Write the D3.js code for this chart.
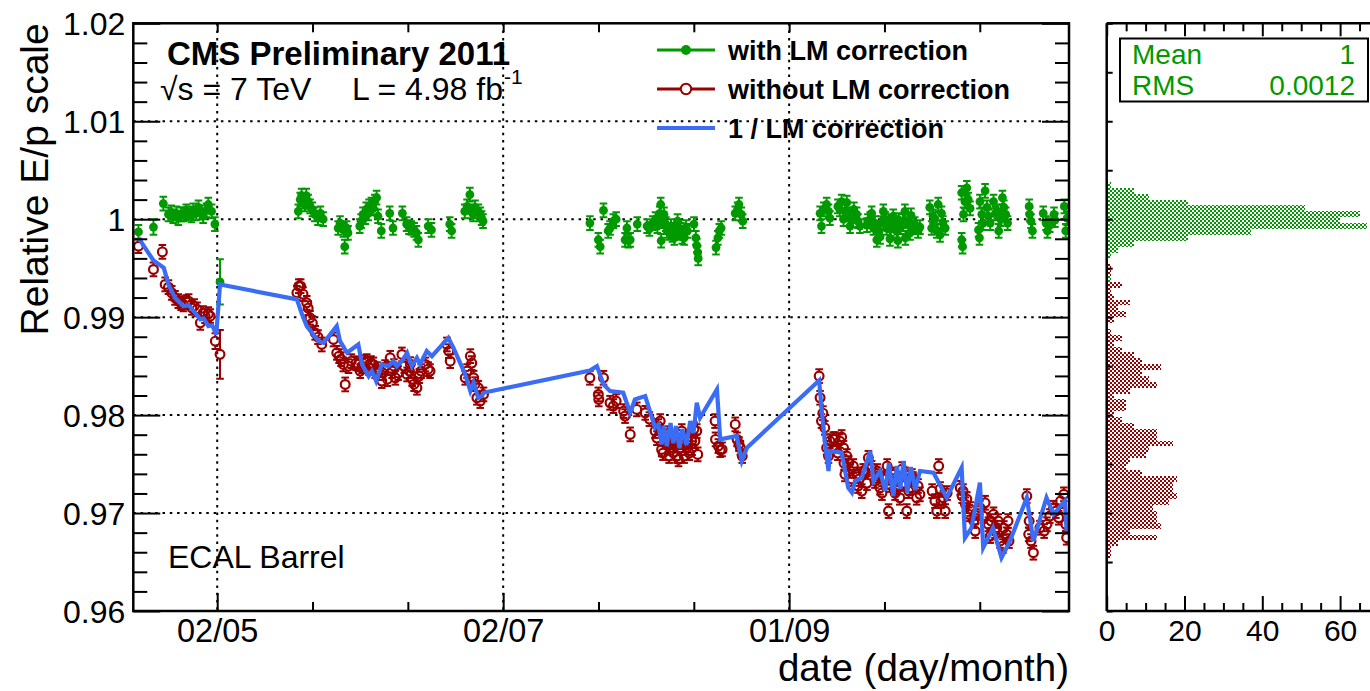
<!DOCTYPE html>
<html>
<head>
<meta charset="utf-8">
<script src="https://cdn.jsdelivr.net/npm/d3@7"></script>
<style>
  html, body { margin: 0; padding: 0; background: #fff; }
  svg { display: block; font-family: "Liberation Sans", Arial, Helvetica, sans-serif; }
</style>
</head>
<body>
<svg id="chart" width="1370" height="691"></svg>
<script>
// ---------------- data ----------------
// Days are counted as day-of-year 2011 (1 = 1 January).
const xDomainDays = [104.1, 303.7];
const yDomain = [0.96, 1.02];
const xMajorDays = [122, 183, 244];
const xMajorLabels = ["02/05", "02/07", "01/09"];
const yTickValues = [0.96, 0.97, 0.98, 0.99, 1.00, 1.01, 1.02];
const yTickLabels = ["0.96", "0.97", "0.98", "0.99", "1", "1.01", "1.02"];

// [day, E/p, error] — with laser-monitoring correction
const greenPoints = [
  [105.2,0.9987,0.0007],[108.4,0.9992,0.0008],[110.5,1.0016,0.0007],[111.6,1.0005,0.0007],[112.2,1.0007,0.0007],
  [112.6,1.0003,0.0007],[113.3,1.0006,0.0007],[113.7,1.0001,0.0007],[114.3,1.0005,0.0007],[114.8,1.0005,0.0007],
  [115.4,1.0008,0.0007],[115.8,1.0006,0.0007],[116.5,1.0004,0.0007],[116.9,1.0009,0.0007],[117.5,1.0006,0.0007],
  [118.0,1.0012,0.0007],[118.6,1.0007,0.0007],[119.0,1.0003,0.0007],[119.7,1.0009,0.0007],[120.1,1.0015,0.0007],
  [120.8,1.0008,0.0007],[121.5,0.9995,0.0007],[122.6,0.9936,0.0023],
  [139.3,1.0008,0.0007],[139.7,1.0020,0.0007],[140.0,1.0024,0.0007],[140.3,1.0018,0.0007],[140.7,1.0015,0.0007],
  [141.0,1.0024,0.0007],[141.4,1.0018,0.0007],[141.8,1.0013,0.0007],[142.3,1.0010,0.0007],[142.8,1.0005,0.0007],
  [143.5,1.0001,0.0007],[144.0,1.0006,0.0007],[144.6,1.0000,0.0007],[147.8,0.9991,0.0007],[148.2,0.9996,0.0007],
  [148.9,0.9989,0.0007],[149.2,0.9972,0.0007],[149.6,0.9991,0.0007],[149.9,0.9986,0.0007],[152.4,0.9993,0.0007],
  [152.7,0.9998,0.0007],[153.1,1.0005,0.0007],[153.6,1.0002,0.0007],[153.8,1.0010,0.0007],[154.2,1.0006,0.0007],
  [154.4,1.0013,0.0007],[154.9,1.0015,0.0007],[155.3,1.0011,0.0007],[155.6,1.0018,0.0007],[156.0,1.0022,0.0007],
  [156.3,1.0003,0.0007],[157.0,0.9988,0.0007],[158.8,1.0006,0.0007],[159.5,0.9991,0.0007],[161.5,1.0006,0.0007],
  [162.4,0.9995,0.0007],[162.9,0.9992,0.0007],[163.4,0.9991,0.0007],[164.0,0.9989,0.0007],[164.5,0.9986,0.0007],
  [164.9,0.9979,0.0007],[167.0,0.9993,0.0007],[167.7,0.9989,0.0007],[171.6,0.9995,0.0007],[172.0,0.9988,0.0007],
  [174.8,1.0008,0.0007],[175.3,1.0013,0.0007],[175.9,1.0025,0.0007],[176.2,1.0008,0.0007],[176.6,1.0005,0.0007],
  [177.0,1.0012,0.0007],[177.7,1.0008,0.0007],[178.1,1.0005,0.0007],[178.4,1.0001,0.0007],[178.7,0.9998,0.0007],
  [201.5,0.9996,0.0007],[203.3,0.9979,0.0007],[203.7,0.9972,0.0007],[204.4,1.0009,0.0007],[205.4,0.9988,0.0007],
  [205.8,0.9991,0.0007],[206.5,0.9998,0.0007],[207.1,1.0000,0.0007],[209.0,0.9979,0.0007],[209.4,0.9991,0.0007],
  [209.7,0.9978,0.0007],[210.1,0.9979,0.0007],[211.6,0.9995,0.0007],[213.7,0.9993,0.0007],[214.2,0.9990,0.0007],
  [214.9,0.9996,0.0007],[215.5,1.0000,0.0007],[215.9,0.9993,0.0007],[216.4,1.0006,0.0007],[216.6,1.0015,0.0007],
  [216.7,0.9978,0.0007],[216.9,0.9998,0.0007],[217.3,1.0005,0.0007],[217.7,0.9995,0.0007],[218.0,0.9988,0.0007],
  [218.4,0.9986,0.0007],[218.8,0.9993,0.0007],[219.1,0.9984,0.0007],[219.5,0.9981,0.0007],[219.8,0.9989,0.0007],
  [220.2,0.9998,0.0007],[220.5,0.9986,0.0007],[220.9,0.9989,0.0007],[221.2,0.9982,0.0007],[221.6,0.9981,0.0007],
  [222.0,0.9992,0.0007],[222.3,0.9988,0.0007],[223.7,0.9995,0.0007],[224.1,0.9981,0.0007],[224.3,0.9973,0.0007],
  [224.5,0.9966,0.0007],[224.6,0.9960,0.0007],[228.4,0.9971,0.0007],[228.8,0.9981,0.0007],[229.1,0.9988,0.0007],
  [229.5,0.9991,0.0007],[232.5,1.0006,0.0007],[233.0,1.0010,0.0007],[233.3,1.0015,0.0007],[233.8,1.0005,0.0007],
  [234.1,0.9998,0.0007],
  [250.6,1.0006,0.0007],[250.9,0.9993,0.0007],[251.4,1.0010,0.0007],[252.0,1.0015,0.0007],[252.4,1.0008,0.0007],
  [252.7,1.0001,0.0007],[254.4,1.0013,0.0007],[254.8,1.0010,0.0007],[255.2,1.0018,0.0007],[255.6,1.0000,0.0007],
  [255.9,1.0008,0.0007],[256.3,1.0017,0.0007],[256.6,1.0005,0.0007],[257.0,0.9993,0.0007],[257.4,0.9999,0.0007],
  [257.8,1.0010,0.0007],[258.4,1.0005,0.0007],[258.7,0.9998,0.0007],[259.1,0.9993,0.0007],[260.6,0.9994,0.0007],
  [260.8,0.9998,0.0007],[261.3,1.0000,0.0007],[261.6,1.0006,0.0007],[262.0,0.9991,0.0007],[262.3,0.9996,0.0007],
  [262.7,0.9979,0.0007],[263.2,0.9988,0.0007],[263.4,0.9982,0.0007],[263.6,0.9996,0.0007],[264.1,1.0008,0.0007],
  [264.5,1.0000,0.0007],[264.8,0.9991,0.0007],[265.3,0.9998,0.0007],[265.5,0.9980,0.0007],[265.7,0.9990,0.0007],
  [266.2,1.0003,0.0007],[266.6,0.9996,0.0007],[266.9,0.9988,0.0007],[267.2,0.9978,0.0007],[267.4,0.9999,0.0007],
  [267.8,0.9992,0.0007],[268.3,0.9998,0.0007],[268.7,1.0008,0.0007],[268.8,0.9981,0.0007],[269.4,0.9995,0.0007],
  [269.8,0.9986,0.0007],[270.0,1.0004,0.0007],[270.4,0.9992,0.0007],[270.8,0.9995,0.0007],[271.5,0.9988,0.0007],
  [271.9,0.9992,0.0007],[274.0,1.0012,0.0007],[274.4,0.9991,0.0007],[274.7,1.0003,0.0007],[275.1,1.0000,0.0007],
  [275.5,0.9988,0.0007],[275.8,1.0015,0.0007],[276.2,0.9984,0.0007],[276.5,1.0006,0.0007],[276.8,0.9996,0.0007],
  [277.3,0.9991,0.0007],[280.8,1.0027,0.0007],[280.8,0.9979,0.0007],[281.0,0.9972,0.0007],[281.2,1.0005,0.0007],
  [281.5,1.0018,0.0007],[281.9,1.0032,0.0007],[282.2,1.0020,0.0007],[282.6,1.0011,0.0007],[284.4,0.9989,0.0007],
  [284.6,0.9981,0.0007],[284.7,1.0018,0.0007],[285.1,1.0005,0.0007],[285.4,0.9996,0.0007],[285.8,1.0029,0.0007],
  [286.2,1.0012,0.0007],[286.5,1.0003,0.0007],[286.9,0.9996,0.0007],[287.6,1.0018,0.0007],[288.0,1.0006,0.0007],
  [288.4,1.0008,0.0007],[288.7,0.9988,0.0007],[289.1,1.0000,0.0007],[289.5,1.0022,0.0007],[289.8,1.0012,0.0007],
  [290.2,1.0005,0.0007],[290.6,0.9996,0.0007],[295.2,1.0013,0.0007],[295.3,1.0005,0.0007],[295.6,0.9998,0.0007],
  [295.9,0.9988,0.0007],[298.2,1.0006,0.0007],[298.8,0.9996,0.0007],[299.1,0.9988,0.0007],[299.6,0.9994,0.0007],
  [300.5,1.0005,0.0007],[300.7,0.9999,0.0007],[302.7,1.0013,0.0007],[303.0,0.9988,0.0007],[303.3,1.0001,0.0007]
];

// [day, E/p, error] — without laser-monitoring correction
const redPoints = [
  [105.2,0.99724,0.0007],[108.4,0.99487,0.0007],[110.3,0.99666,0.0007],[110.9,0.99334,0.0007],[111.6,0.99306,0.0007],
  [112.3,0.99248,0.0007],[113.0,0.99197,0.0007],[113.7,0.99163,0.0007],[114.3,0.99143,0.0007],[114.8,0.99130,0.0007],
  [115.4,0.99153,0.0007],[115.9,0.99163,0.0007],[116.6,0.99095,0.0007],[117.1,0.99112,0.0007],[117.7,0.99079,0.0007],
  [118.4,0.98942,0.0007],[119.0,0.99041,0.0007],[119.4,0.99010,0.0007],[120.1,0.99031,0.0007],[120.5,0.99010,0.0007],
  [121.6,0.98755,0.0008],[122.6,0.98620,0.0025],
  [139.0,0.99248,0.0007],[139.4,0.99316,0.0007],[139.8,0.99316,0.0007],[140.3,0.99235,0.0007],[141.1,0.99146,0.0007],
  [141.4,0.99092,0.0007],[141.8,0.98993,0.0007],[142.3,0.98939,0.0007],[142.9,0.98840,0.0007],[143.5,0.98796,0.0007],
  [144.3,0.98721,0.0007],[146.8,0.98772,0.0007],[147.5,0.98636,0.0007],[148.0,0.98602,0.0007],[148.4,0.98571,0.0007],
  [148.9,0.98517,0.0007],[149.3,0.98313,0.0007],[150.0,0.98500,0.0007],[150.6,0.98551,0.0007],[151.6,0.98530,0.0007],
  [152.1,0.98520,0.0007],[152.5,0.98449,0.0007],[152.9,0.98500,0.0007],[153.4,0.98541,0.0007],[153.9,0.98551,0.0007],
  [154.4,0.98480,0.0007],[154.8,0.98531,0.0007],[155.3,0.98517,0.0007],[155.7,0.98449,0.0007],[156.1,0.98469,0.0007],
  [156.3,0.98429,0.0007],[157.1,0.98347,0.0007],[157.4,0.98429,0.0007],[157.8,0.98490,0.0007],[158.3,0.98367,0.0007],
  [158.9,0.98585,0.0007],[159.3,0.98449,0.0007],[159.7,0.98500,0.0007],[160.0,0.98381,0.0007],[160.6,0.98429,0.0007],
  [161.4,0.98619,0.0007],[161.9,0.98500,0.0007],[162.5,0.98415,0.0007],[163.0,0.98449,0.0007],[163.2,0.98520,0.0007],
  [163.6,0.98367,0.0007],[164.0,0.98316,0.0007],[164.6,0.98279,0.0007],[165.1,0.98398,0.0007],[165.5,0.98449,0.0007],
  [166.4,0.98517,0.0007],[167.0,0.98469,0.0007],[167.4,0.98449,0.0007],
  [171.0,0.98721,0.0007],[171.4,0.98653,0.0007],[171.7,0.98551,0.0007],[174.9,0.98381,0.0007],[175.3,0.98449,0.0007],
  [176.0,0.98602,0.0007],[176.3,0.98531,0.0007],[176.7,0.98381,0.0007],[177.0,0.98316,0.0007],[177.4,0.98177,0.0007],
  [177.7,0.98279,0.0007],[178.1,0.98143,0.0007],[178.8,0.98211,0.0007],
  [201.5,0.98381,0.0007],[203.3,0.98211,0.0007],[203.4,0.98160,0.0007],[204.4,0.98381,0.0007],[205.8,0.98126,0.0007],
  [206.5,0.98092,0.0007],[207.1,0.98143,0.0007],[208.7,0.98041,0.0007],[209.0,0.97990,0.0007],[210.1,0.97803,0.0007],
  [211.5,0.98058,0.0007],[213.3,0.98023,0.0007],[214.2,0.97959,0.0007],[215.4,0.97837,0.0007],[215.8,0.97765,0.0007],
  [216.1,0.97888,0.0007],[216.5,0.97939,0.0007],[216.8,0.97650,0.0007],[217.1,0.97612,0.0007],[217.3,0.97776,0.0007],
  [217.9,0.97735,0.0007],[218.2,0.97816,0.0007],[218.4,0.97582,0.0007],[218.6,0.97666,0.0007],[219.0,0.97755,0.0007],
  [219.3,0.97615,0.0007],[219.5,0.97735,0.0007],[219.7,0.97694,0.0007],[220.0,0.97776,0.0007],[220.1,0.97582,0.0007],
  [220.4,0.97548,0.0007],[220.8,0.97663,0.0007],[221.1,0.97837,0.0007],[221.5,0.97735,0.0007],[221.6,0.97582,0.0007],
  [222.2,0.97666,0.0007],[222.4,0.97735,0.0007],[222.7,0.97612,0.0007],[223.2,0.97735,0.0007],[223.3,0.97663,0.0007],
  [223.7,0.97857,0.0007],[223.9,0.97735,0.0007],[224.3,0.97837,0.0007],[224.5,0.97599,0.0007],
  [228.2,0.97939,0.0007],[228.3,0.97752,0.0007],[228.9,0.97684,0.0007],[229.3,0.97643,0.0007],[229.7,0.97650,0.0007],
  [232.5,0.97905,0.0007],[232.9,0.97752,0.0007],[233.3,0.97704,0.0007],[233.6,0.97666,0.0007],[234.0,0.97582,0.0007],
  [250.4,0.98398,0.0007],[250.6,0.98177,0.0007],[250.9,0.97939,0.0007],[251.2,0.98020,0.0007],[251.6,0.97870,0.0007],
  [252.0,0.97666,0.0007],[252.4,0.97582,0.0007],[252.7,0.97735,0.0007],[253.4,0.97755,0.0007],[253.8,0.97755,0.0007],
  [254.4,0.97612,0.0007],[254.8,0.97735,0.0007],[255.2,0.97776,0.0007],[255.6,0.97666,0.0007],[255.7,0.97510,0.0007],
  [255.9,0.97395,0.0007],[256.3,0.97582,0.0007],[256.7,0.97510,0.0007],[257.0,0.97429,0.0007],[257.4,0.97347,0.0007],
  [257.7,0.97480,0.0007],[258.4,0.97395,0.0007],[258.7,0.97276,0.0007],[258.9,0.97347,0.0007],[259.5,0.97224,0.0007],
  [259.8,0.97429,0.0007],[260.2,0.97429,0.0007],[260.6,0.97306,0.0007],[260.9,0.97564,0.0007],[261.6,0.97462,0.0007],
  [262.3,0.97327,0.0007],[262.8,0.97429,0.0007],[263.0,0.97378,0.0007],[263.4,0.97258,0.0007],[263.8,0.97204,0.0007],
  [264.1,0.97347,0.0007],[264.8,0.97360,0.0007],[264.9,0.97480,0.0007],[265.2,0.97020,0.0007],[265.5,0.97286,0.0007],
  [266.0,0.97327,0.0007],[266.2,0.97395,0.0007],[266.6,0.97204,0.0007],[266.9,0.97258,0.0007],[267.3,0.97347,0.0007],
  [267.6,0.97156,0.0007],[268.1,0.97449,0.0007],[268.3,0.97306,0.0007],[268.7,0.97395,0.0007],[269.1,0.97020,0.0007],
  [269.5,0.97224,0.0007],[269.8,0.97258,0.0007],[270.2,0.97378,0.0007],[270.4,0.97347,0.0007],[271.2,0.97156,0.0007],
  [271.5,0.97276,0.0007],[271.9,0.97191,0.0007],[274.5,0.97224,0.0007],[275.1,0.97122,0.0007],[275.5,0.97020,0.0007],
  [275.9,0.97480,0.0007],[276.2,0.97245,0.0007],[276.4,0.97122,0.0007],[276.9,0.97156,0.0007],[277.3,0.97020,0.0007],
  [277.7,0.97204,0.0007],[280.5,0.97258,0.0007],[280.9,0.97173,0.0007],[281.1,0.97224,0.0007],[281.6,0.97089,0.0007],
  [281.9,0.97143,0.0007],[282.3,0.96987,0.0007],[282.6,0.97041,0.0007],[283.4,0.96918,0.0007],[283.7,0.96816,0.0007],
  [283.9,0.97000,0.0007],[284.7,0.97054,0.0007],[285.4,0.96969,0.0007],[285.8,0.97105,0.0007],[286.5,0.96885,0.0007],
  [286.9,0.96765,0.0007],[287.1,0.96918,0.0007],[287.6,0.96987,0.0007],[287.9,0.96816,0.0007],[288.3,0.96850,0.0007],
  [288.6,0.96918,0.0007],[289.0,0.96714,0.0007],[289.6,0.96663,0.0007],[289.8,0.96847,0.0007],[290.4,0.96783,0.0007],
  [290.7,0.96918,0.0007],[290.9,0.96714,0.0007],
  [294.7,0.97173,0.0007],[295.1,0.96783,0.0007],[295.2,0.96918,0.0007],[295.6,0.96714,0.0007],[296.1,0.96595,0.0007],
  [297.5,0.96850,0.0007],[298.4,0.96816,0.0007],[299.0,0.96885,0.0007],[299.6,0.96969,0.0007],[300.4,0.97054,0.0007],
  [300.9,0.97020,0.0007],[301.5,0.96952,0.0007],[301.9,0.97122,0.0007],[302.6,0.97191,0.0007],[303.0,0.96885,0.0007],
  [303.2,0.96748,0.0007]
];

// [day, 1/LM correction]
const lmLine = [
  [105.2,0.99809],[108.4,0.99578],[110.6,0.99503],[111.6,0.99334],[113.0,0.99197],[114.8,0.99112],[115.9,0.99122],
  [117.3,0.99044],[118.4,0.98977],[119.1,0.98987],[120.1,0.98908],[120.9,0.98918],[121.8,0.98823],[122.6,0.99334],
  [139.0,0.99181],[140.1,0.99028],[141.1,0.98908],[143.6,0.98755],[144.7,0.98738],[147.5,0.98908],[148.2,0.98755],
  [149.7,0.98636],[152.1,0.98721],[152.9,0.98517],[154.3,0.98398],[155.0,0.98449],[155.9,0.98347],[157.1,0.98517],
  [158.5,0.98500],[159.6,0.98551],[160.3,0.98500],[161.4,0.98551],[162.5,0.98636],[163.5,0.98500],[164.6,0.98585],
  [165.3,0.98517],[166.7,0.98653],[167.8,0.98602],[171.3,0.98789],[172.4,0.98687],[174.9,0.98415],[176.0,0.98245],
  [176.7,0.98330],[177.7,0.98177],[178.5,0.98194],[178.8,0.98228],[201.5,0.98455],[203.0,0.98500],[204.4,0.98313],
  [205.8,0.98245],[208.6,0.98228],[210.1,0.98024],[211.1,0.98160],[213.3,0.98194],[215.4,0.97871],[216.1,0.97905],
  [216.8,0.97701],[217.3,0.97888],[217.9,0.97684],[218.7,0.97918],[219.3,0.97714],[219.9,0.97888],[220.6,0.97663],
  [221.2,0.97857],[222.1,0.97694],[222.9,0.97939],[223.6,0.97816],[224.3,0.98126],[225.0,0.97973],[228.6,0.98262],
  [229.3,0.97752],[232.8,0.97786],[233.9,0.97531],[235.0,0.97667],[250.4,0.98354],[250.9,0.98075],[251.6,0.97735],
  [252.4,0.97429],[252.7,0.97633],[255.2,0.97616],[256.6,0.97259],[257.4,0.97208],[258.1,0.97327],[259.5,0.97361],
  [261.3,0.97633],[262.0,0.97327],[263.4,0.97429],[264.5,0.97225],[265.3,0.97510],[266.2,0.97173],[267.0,0.97480],
  [267.7,0.97245],[268.4,0.97531],[269.2,0.97204],[270.0,0.97469],[270.9,0.97235],[271.9,0.97429],[274.8,0.97412],
  [277.6,0.97157],[280.8,0.97463],[281.5,0.96746],[282.9,0.96848],[284.7,0.97310],[285.4,0.96646],[287.5,0.96848],
  [289.3,0.96544],[291.1,0.96714],[294.7,0.97157],[296.1,0.96714],[298.9,0.97157],[300.4,0.96987],[302.8,0.97123],
  [303.2,0.96816]
];

// Projections: 100 bins between 0.96 and 1.02, counts starting at the given bin
const histBinCount = 100;
const greenHistStart = 56;
const greenHistCounts = [1,0,0,0,1,3,7,21,37,67,60,65,51,21,11,7,1];
const redHistStart = 9;
const redHistCounts = [1,1,3,13,6,14,13,13,12,16,18,17,17,18,9,5,6,10,11,17,13,13,7,4,2,5,5,2,6,13,
                       11,9,14,9,7,4,2,4,1,0,2,5,3,6,2,1,4,0,1,1,0,1,1,1];
const histXTicks = [0, 20, 40, 60];

const legendLabels = ["with LM correction", "without LM correction", "1 / LM correction"];
const statsLabels = ["Mean", "RMS"];
const statsValues = ["1", "0.0012"];

// ---------------- layout ----------------
const GREEN = "#009900", RED = "#990000", BLUE = "#3b6cf6";
const plot = { left: 133.3, right: 1069, top: 23.3, bottom: 611 };
const hist = { left: 1106.7, right: 1380, top: 23.3, bottom: 611 };

const yearStart = Date.UTC(2011, 0, 1);
const dayToDate = d => new Date(yearStart + (d - 1) * 864e5);

const x = d3.scaleUtc().domain(xDomainDays.map(dayToDate)).range([plot.left, plot.right]);
const y = d3.scaleLinear().domain(yDomain).range([plot.bottom, plot.top]);
const hx = d3.scaleLinear().domain([0, 70]).range([hist.left, hist.left + 70 * 3.89]);

const svg = d3.select("#chart");
const defs = svg.append("defs");

defs.append("clipPath").attr("id", "plotClip").append("rect")
  .attr("x", plot.left).attr("y", plot.top)
  .attr("width", plot.right - plot.left).attr("height", plot.bottom - plot.top);
defs.append("clipPath").attr("id", "histClip").append("rect")
  .attr("x", hist.left).attr("y", hist.top)
  .attr("width", hist.right - hist.left).attr("height", hist.bottom - hist.top);

function checker(id, color) {
  const p = defs.append("pattern").attr("id", id)
    .attr("width", 4).attr("height", 4).attr("patternUnits", "userSpaceOnUse");
  p.append("rect").attr("width", 4).attr("height", 4).attr("fill", "#fff");
  p.append("rect").attr("width", 2).attr("height", 2).attr("fill", color);
  p.append("rect").attr("x", 2).attr("y", 2).attr("width", 2).attr("height", 2).attr("fill", color);
}
checker("chkGreen", GREEN);
checker("chkRed", RED);

// ---------------- grid ----------------
const grid = svg.append("g").attr("stroke", "#000").attr("stroke-width", 2)
  .attr("stroke-dasharray", "2.5,4.8").attr("fill", "none");
grid.selectAll("line.h").data(yTickValues.filter(v => v > yDomain[0] && v < yDomain[1]))
  .join("line").attr("class", "h")
  .attr("x1", plot.left).attr("x2", plot.right)
  .attr("y1", d => y(d)).attr("y2", d => y(d));
grid.selectAll("line.v").data(xMajorDays).join("line").attr("class", "v")
  .attr("x1", d => x(dayToDate(d))).attr("x2", d => x(dayToDate(d)))
  .attr("y1", plot.top).attr("y2", plot.bottom);

// ---------------- histogram panel ----------------
const binW = (yDomain[1] - yDomain[0]) / histBinCount;
function drawHist(start, counts, fill) {
  const bins = counts.map((c, i) => ({ lo: yDomain[0] + (start + i) * binW, c })).filter(b => b.c > 0);
  svg.append("g").attr("clip-path", "url(#histClip)")
    .selectAll("rect").data(bins).join("rect")
    .attr("x", hx(0)).attr("width", d => hx(d.c) - hx(0))
    .attr("y", d => y(d.lo + binW)).attr("height", d => y(d.lo) - y(d.lo + binW))
    .attr("fill", fill).attr("shape-rendering", "crispEdges");
}
drawHist(redHistStart, redHistCounts, "url(#chkRed)");
drawHist(greenHistStart, greenHistCounts, "url(#chkGreen)");

// ---------------- data marks ----------------
const marks = svg.append("g").attr("clip-path", "url(#plotClip)");
const R_RED = 4.4, R_GREEN = 4.4, CAP = 3.8;

function errorBars(g, pts, color, gapR) {
  const segs = [];
  pts.forEach(([d, v, e]) => {
    const cx = x(dayToDate(d)), cy = y(v);
    const top = y(v + e), bot = y(v - e);
    if (cy - gapR > top) segs.push([cx, top, cx, cy - gapR]);
    if (bot > cy + gapR) segs.push([cx, cy + gapR, cx, bot]);
    segs.push([cx - CAP, top, cx + CAP, top]);
    segs.push([cx - CAP, bot, cx + CAP, bot]);
  });
  g.append("g").attr("stroke", color).attr("stroke-width", 2)
    .selectAll("line").data(segs).join("line")
    .attr("x1", s => s[0]).attr("y1", s => s[1]).attr("x2", s => s[2]).attr("y2", s => s[3]);
}

// without correction: open circles
errorBars(marks, redPoints, RED, R_RED);
marks.append("g").selectAll("circle").data(redPoints).join("circle")
  .attr("cx", d => x(dayToDate(d[0]))).attr("cy", d => y(d[1])).attr("r", R_RED)
  .attr("fill", "none").attr("stroke", RED).attr("stroke-width", 2.2);

// with correction: filled circles
errorBars(marks, greenPoints, GREEN, 0);
marks.append("g").selectAll("circle").data(greenPoints).join("circle")
  .attr("cx", d => x(dayToDate(d[0]))).attr("cy", d => y(d[1])).attr("r", R_GREEN)
  .attr("fill", GREEN);

// 1 / LM correction line
marks.append("path").datum(lmLine)
  .attr("d", d3.line().x(d => x(dayToDate(d[0]))).y(d => y(d[1])))
  .attr("fill", "none").attr("stroke", BLUE).attr("stroke-width", 4.2).attr("stroke-linejoin", "miter");

// ---------------- axes ----------------
function styleAxis(g) {
  g.select(".domain").remove();
  g.selectAll(".tick line").attr("stroke", "#000").attr("stroke-width", 2);
  g.selectAll(".tick text").attr("fill", "#000");
  g.attr("font-family", null).attr("font-size", null);
}
const yMinor = d3.range(0, 31).filter(i => i % 5 !== 0).map(i => yDomain[0] + i * 0.002);

// left
svg.append("g").attr("transform", `translate(${plot.left},0)`)
  .call(d3.axisLeft(y).tickValues(yTickValues).tickSize(-27).tickPadding(8)
    .tickFormat((d, i) => yTickLabels[i]))
  .call(styleAxis).selectAll("text").attr("font-size", 32).attr("dy", "0.36em");
svg.append("g").attr("transform", `translate(${plot.left},0)`)
  .call(d3.axisLeft(y).tickValues(yMinor).tickSize(-14).tickFormat(""))
  .call(styleAxis);
// right
svg.append("g").attr("transform", `translate(${plot.right},0)`)
  .call(d3.axisRight(y).tickValues(yTickValues).tickSize(-27).tickFormat(""))
  .call(styleAxis);
svg.append("g").attr("transform", `translate(${plot.right},0)`)
  .call(d3.axisRight(y).tickValues(yMinor).tickSize(-14).tickFormat(""))
  .call(styleAxis);

// bottom
const majorDates = xMajorDays.map(dayToDate);
const minorStep = (xMajorDays[1] - xMajorDays[0]) / 3;
const minorDates = d3.range(-3, 12).filter(k => k % 3 !== 0)
  .map(k => xMajorDays[0] + k * minorStep)
  .filter(d => d > xDomainDays[0] && d < xDomainDays[1]).map(dayToDate);

svg.append("g").attr("transform", `translate(0,${plot.bottom})`)
  .call(d3.axisBottom(x).tickValues(majorDates).tickSize(-18).tickPadding(7.5)
    .tickFormat((d, i) => xMajorLabels[i]))
  .call(styleAxis).selectAll("text").attr("font-size", 32.5).attr("dy", "0.71em");
svg.append("g").attr("transform", `translate(0,${plot.bottom})`)
  .call(d3.axisBottom(x).tickValues(minorDates).tickSize(-9).tickFormat(""))
  .call(styleAxis);
// top
svg.append("g").attr("transform", `translate(0,${plot.top})`)
  .call(d3.axisTop(x).tickValues(majorDates.concat(minorDates)).tickSize(-9).tickFormat(""))
  .call(styleAxis);

// frame
svg.append("rect").attr("x", plot.left).attr("y", plot.top)
  .attr("width", plot.right - plot.left).attr("height", plot.bottom - plot.top)
  .attr("fill", "none").attr("stroke", "#000").attr("stroke-width", 2.5);

// histogram axes
const hYTicks = d3.range(0, 13).map(i => yDomain[0] + i * 0.005);
svg.append("g").attr("transform", `translate(${hist.left},0)`)
  .call(d3.axisRight(y).tickValues(hYTicks).tickSize(6).tickFormat(""))
  .call(styleAxis);
const hMinor = d3.range(5, 70, 5).filter(v => v % 20 !== 0);
svg.append("g").attr("transform", `translate(0,${hist.bottom})`)
  .call(d3.axisBottom(hx).tickValues(histXTicks).tickSize(-15).tickPadding(9).tickFormat(d3.format("d")))
  .call(styleAxis).selectAll("text").attr("font-size", 30).attr("dy", "0.71em");
svg.append("g").attr("transform", `translate(0,${hist.bottom})`)
  .call(d3.axisBottom(hx).tickValues(hMinor).tickSize(-8).tickFormat(""))
  .call(styleAxis);
svg.append("g").attr("transform", `translate(0,${hist.top})`)
  .call(d3.axisTop(hx).tickValues(histXTicks).tickSize(-13).tickFormat(""))
  .call(styleAxis);
svg.append("g").attr("transform", `translate(0,${hist.top})`)
  .call(d3.axisTop(hx).tickValues(hMinor).tickSize(-8).tickFormat(""))
  .call(styleAxis);
const hFrame = svg.append("g").attr("stroke", "#000").attr("stroke-width", 2.5);
hFrame.append("line").attr("x1", hist.left).attr("x2", hist.left).attr("y1", hist.top).attr("y2", hist.bottom);
hFrame.append("line").attr("x1", hist.left).attr("x2", 1370).attr("y1", hist.top).attr("y2", hist.top);
hFrame.append("line").attr("x1", hist.left).attr("x2", 1370).attr("y1", hist.bottom).attr("y2", hist.bottom);

// ---------------- text ----------------
svg.append("text").attr("transform", `translate(48,${plot.top}) rotate(-90)`)
  .attr("text-anchor", "end").attr("font-size", 39).text("Relative E/p scale");
svg.append("text").attr("x", plot.right).attr("y", 681)
  .attr("text-anchor", "end").attr("font-size", 38.5).text("date (day/month)");

svg.append("text").attr("x", 167).attr("y", 65).attr("font-size", 33)
  .attr("font-weight", "bold").text("CMS Preliminary 2011");
svg.append("text").attr("x", 160).attr("y", 100).attr("font-size", 32).text("\u221As = 7 TeV");
const lumi = svg.append("text").attr("x", 352).attr("y", 100).attr("font-size", 32).text("L = 4.98 fb");
const lumiW = lumi.node().getComputedTextLength();
svg.append("text").attr("x", 352 + lumiW + 1).attr("y", 84).attr("font-size", 21).text("-1");

svg.append("text").attr("x", 168).attr("y", 568).attr("font-size", 32).text("ECAL Barrel");

// legend
const legY = [50, 89, 128];
const leg = svg.append("g");
leg.append("line").attr("x1", 657).attr("x2", 715).attr("y1", legY[0]).attr("y2", legY[0])
  .attr("stroke", GREEN).attr("stroke-width", 3);
leg.append("circle").attr("cx", 686).attr("cy", legY[0]).attr("r", 5).attr("fill", GREEN);
leg.append("line").attr("x1", 657).attr("x2", 715).attr("y1", legY[1]).attr("y2", legY[1])
  .attr("stroke", RED).attr("stroke-width", 3);
leg.append("circle").attr("cx", 686).attr("cy", legY[1]).attr("r", 5.2)
  .attr("fill", "#fff").attr("stroke", RED).attr("stroke-width", 2);
leg.append("line").attr("x1", 657).attr("x2", 715).attr("y1", legY[2]).attr("y2", legY[2])
  .attr("stroke", BLUE).attr("stroke-width", 4);
leg.selectAll("text").data(legendLabels).join("text")
  .attr("x", 728).attr("y", (d, i) => legY[i] + 9.5)
  .attr("font-size", 27).attr("font-weight", "bold").text(d => d);

// stats box
svg.append("rect").attr("x", 1120).attr("y", 38.5).attr("width", 248).attr("height", 63)
  .attr("fill", "#fff").attr("stroke", "#000").attr("stroke-width", 2);
const statY = [64, 95];
svg.append("g").selectAll("text").data(statsLabels).join("text")
  .attr("x", 1132).attr("y", (d, i) => statY[i]).attr("font-size", 28).attr("fill", GREEN).text(d => d);
svg.append("g").selectAll("text").data(statsValues).join("text")
  .attr("x", 1355).attr("y", (d, i) => statY[i]).attr("text-anchor", "end")
  .attr("font-size", 28).attr("fill", GREEN).text(d => d);
</script>
</body>
</html>
